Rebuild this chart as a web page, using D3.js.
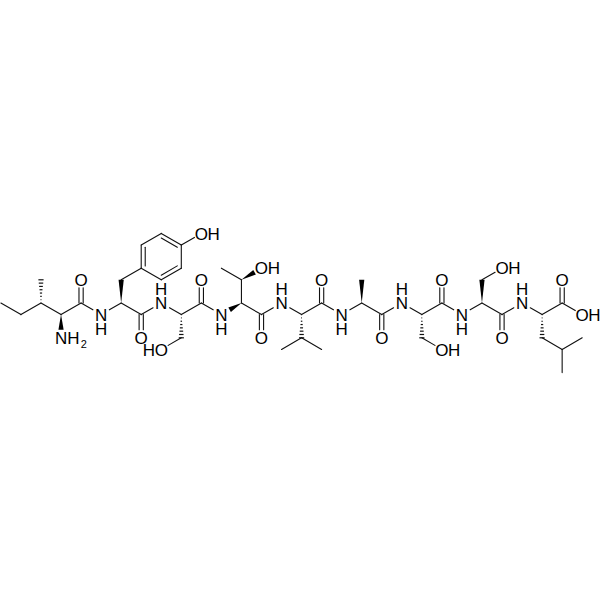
<!DOCTYPE html>
<html>
<head>
<meta charset="utf-8">
<style>
  body { margin: 0; background: #fff; }
  text { font-family: "Liberation Sans", Arial, sans-serif; fill: #000; }
</style>
<script src="https://d3js.org/d3.v7.min.js"></script>
</head>
<body>
<div id="chart"></div>
<script>
(function () {

  // Atoms on the drawing lattice: col = half a bond across, row = quarter of a bond down
  const atomCol = [0,1,2,2,3,3,4,4,5,6,6,7,7,8,9,9,8,10,7,7,8,9,9,8,10,10,11,12,12,11,13,13,13,
    14,15,15,14,16,16,16,17,18,18,19,19,20,21,21,22,22,22,23,24,24,25,25,25,26,27,27,28,29,28,28,28,29]
  const atomRow = [0,1,0,-2,1,3,0,-2,1,0,-2,-3,-5,-6,-5,-3,-2,-6,1,3,0,1,3,4,0,-2,1,0,-2,-3,-3,1,3,
    0,1,3,4,4,0,-2,1,0,-2,1,3,0,1,3,4,0,-2,1,0,-2,-3,1,3,0,1,3,4,3,6,0,-2,1]

  // Heteroatom labels, index into the atoms above
  const labelAtoms = [5,7,8,17,19,20,23,25,26,30,32,33,39,40,44,45,48,50,51,54,56,57,64,65]
  const labelKinds = ["NH2","O","NHd","OH","O","NHu","HO","O","NHd","OH","O","NHu","O","NHd","O","NHu",
    "OH","O","NHd","OH","O","NHu","O","OH"]

  const singleBonds = [[0,1],[1,2],[2,4],[4,6],[6,8],[8,9],[10,11],[12,13],[14,15],[16,11],[14,17],[9,18],
    [18,20],[20,21],[22,23],[21,24],[24,26],[27,28],[28,29],[27,31],[31,33],[33,34],[35,36],[35,37],[34,38],
    [38,40],[40,41],[41,43],[43,45],[45,46],[47,48],[46,49],[49,51],[51,52],[53,54],[52,55],[55,57],[57,58],
    [59,60],[60,61],[60,62],[58,63],[63,65]]
  const doubleBonds = [[6,7],[18,19],[24,25],[31,32],[38,39],[43,44],[49,50],[55,56],[63,64]]
  const ringDoubleBonds = [[11,12],[13,14],[15,16]]
  const wedgeBonds = [[4,5],[9,10],[27,26],[28,30],[41,42],[52,53]]
  const hashBonds = [[2,3],[21,22],[34,35],[46,47],[58,59]]

  const ringCentre = [8, -4]

  const width = 600
  const height = 600

  const x = d3.scaleLinear().domain([0, 29]).range([0.9, 582.2])
  const y = d3.scaleLinear().domain([-6, 6]).range([233.4, 372.6])

  const svg = d3.select("#chart").append("svg")
      .attr("width", width)
      .attr("height", height)
      .style("display", "block")

  svg.append("rect").attr("width", width).attr("height", height).attr("fill", "#fff")

  const px = i => [x(atomCol[i]), y(atomRow[i])]

  // how far a bond stops short of a labelled atom
  const gapOf = new Map(labelAtoms.map((a, i) => [a, labelKinds[i].length === 3 && labelKinds[i] !== "NH2" ? 9.5 : 8]))

  function trimmed(a, b) {
    const p = px(a), q = px(b)
    const len = Math.hypot(q[0] - p[0], q[1] - p[1])
    const ux = (q[0] - p[0]) / len, uy = (q[1] - p[1]) / len
    const ta = gapOf.get(a) || 0
    const tb = gapOf.get(b) || 0
    return {
      x1: p[0] + ux * ta, y1: p[1] + uy * ta,
      x2: q[0] - ux * tb, y2: q[1] - uy * tb,
      ux, uy
    }
  }

  const bonds = svg.append("g")
      .attr("stroke", "#111")
      .attr("stroke-width", 1.1)
      .attr("fill", "none")
      .attr("stroke-linecap", "round")

  bonds.selectAll("line.single")
    .data(singleBonds)
    .join("line")
      .attr("class", "single")
      .attr("x1", d => trimmed(d[0], d[1]).x1)
      .attr("y1", d => trimmed(d[0], d[1]).y1)
      .attr("x2", d => trimmed(d[0], d[1]).x2)
      .attr("y2", d => trimmed(d[0], d[1]).y2)

  // C=O, two lines either side of the axis
  const doubleGap = 2.1
  const doubleLines = doubleBonds.flatMap(d => [-1, 1].map(side => ({ d, side })))
  bonds.selectAll("line.double")
    .data(doubleLines)
    .join("line")
      .attr("class", "double")
      .attr("x1", e => trimmed(e.d[0], e.d[1]).x1 + e.side * doubleGap)
      .attr("y1", e => trimmed(e.d[0], e.d[1]).y1)
      .attr("x2", e => trimmed(e.d[0], e.d[1]).x2 + e.side * doubleGap)
      .attr("y2", e => trimmed(e.d[0], e.d[1]).y2)

  // Ring double bonds: the outline plus a shorter line inside
  bonds.selectAll("line.ring")
    .data(ringDoubleBonds)
    .join("line")
      .attr("class", "ring")
      .attr("x1", d => px(d[0])[0])
      .attr("y1", d => px(d[0])[1])
      .attr("x2", d => px(d[1])[0])
      .attr("y2", d => px(d[1])[1])

  const cx = x(ringCentre[0]), cy = y(ringCentre[1])
  const inner = (p, t) => [p[0] + (cx - p[0]) * t, p[1] + (cy - p[1]) * t]
  bonds.selectAll("line.ringInner")
    .data(ringDoubleBonds)
    .join("line")
      .attr("class", "ringInner")
      .attr("x1", d => inner(px(d[0]), 0.2)[0])
      .attr("y1", d => inner(px(d[0]), 0.2)[1])
      .attr("x2", d => inner(px(d[1]), 0.2)[0])
      .attr("y2", d => inner(px(d[1]), 0.2)[1])

  // Solid wedges, narrow end on the stereocentre
  const wedgeHalf = 2.6
  svg.append("g").selectAll("path")
    .data(wedgeBonds)
    .join("path")
      .attr("fill", "#000")
      .attr("d", d => {
        const b = trimmed(d[0], d[1])
        return d3.line()([
          [b.x1, b.y1],
          [b.x2 - b.uy * wedgeHalf, b.y2 + b.ux * wedgeHalf],
          [b.x2 + b.uy * wedgeHalf, b.y2 - b.ux * wedgeHalf]
        ]) + "Z"
      })

  // Hashed wedges, rungs getting wider away from the stereocentre
  const rungs = d3.range(1, 8).map(i => i / 7)
  const hashLines = hashBonds.flatMap(d => rungs.map(t => ({ d, t })))
  svg.append("g")
      .attr("stroke", "#111")
      .attr("stroke-width", 1.2)
    .selectAll("line")
    .data(hashLines)
    .join("line")
      .attr("x1", e => {
        const b = trimmed(e.d[0], e.d[1])
        return b.x1 + (b.x2 - b.x1) * e.t - b.uy * wedgeHalf * e.t
      })
      .attr("y1", e => {
        const b = trimmed(e.d[0], e.d[1])
        return b.y1 + (b.y2 - b.y1) * e.t + b.ux * wedgeHalf * e.t
      })
      .attr("x2", e => {
        const b = trimmed(e.d[0], e.d[1])
        return b.x1 + (b.x2 - b.x1) * e.t + b.uy * wedgeHalf * e.t
      })
      .attr("y2", e => {
        const b = trimmed(e.d[0], e.d[1])
        return b.y1 + (b.y2 - b.y1) * e.t - b.ux * wedgeHalf * e.t
      })

  // Atom labels, one text per label with a tspan per letter
  const fontSize = 17
  const hStep = 12.3
  const glyphs = {
    O: [["O", 0, 0]],
    OH: [["O", 0, 0], ["H", hStep, 0]],
    HO: [["H", -hStep, 0], ["O", 0, 0]],
    NHd: [["N", 0, 0], ["H", 0, 13.8]],
    NHu: [["N", 0, 0], ["H", 0, -13.8]],
    NH2: [["N", 0, 0], ["H", hStep, 0], ["2", hStep + 10.5, 4.5, 11]]
  }

  const labels = svg.append("g")
      .attr("font-size", fontSize)
      .attr("text-anchor", "middle")

  labelAtoms.forEach((atom, i) => {
    const p = px(atom)
    const label = labels.append("text")
    glyphs[labelKinds[i]].forEach(g => {
      label.append("tspan")
        .attr("x", p[0] + g[1])
        .attr("y", p[1] + g[2] + fontSize * 0.36)
        .attr("font-size", g[3] || null)
        .text(g[0])
    })
  })

})();
</script>
</body>
</html>
